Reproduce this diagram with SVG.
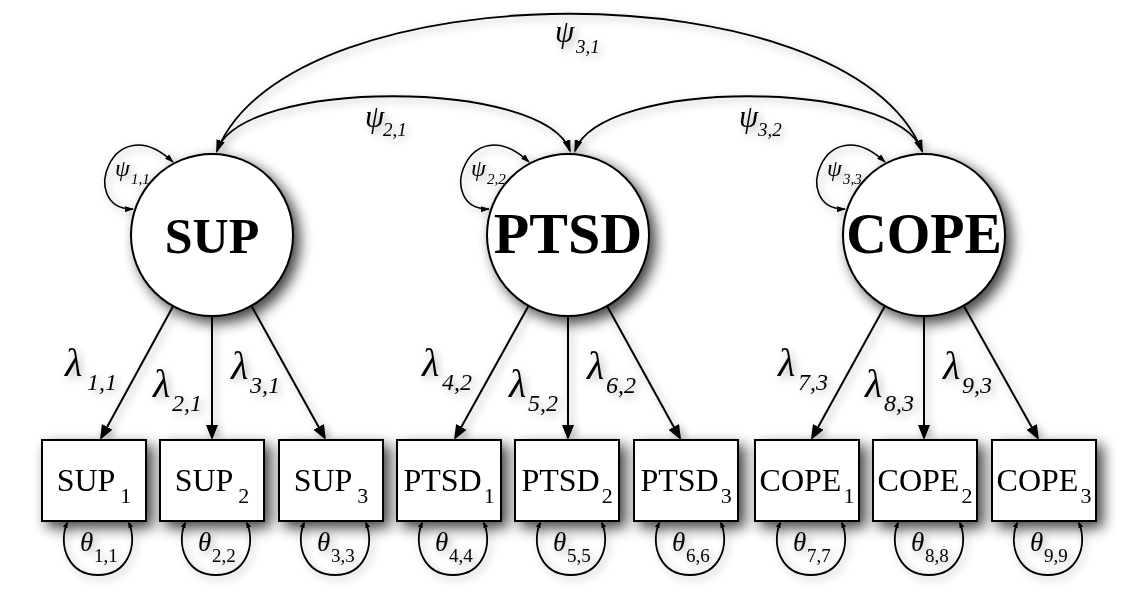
<svg xmlns="http://www.w3.org/2000/svg" width="1148" height="613" viewBox="0 0 1148 613">
<style>
.lat{fill:#fff;stroke:#000;stroke-width:2}
.box{fill:#fff;stroke:#000;stroke-width:2}
.latl{font-family:"Liberation Serif",serif;font-weight:bold;text-anchor:middle;fill:#000}
.obs{font-family:"Liberation Serif",serif;font-size:32px;text-anchor:middle;fill:#000}
.obs .s{font-size:22px}
.gr{font-family:"Liberation Serif",serif;font-style:italic;fill:#000}
.th{font-family:"Liberation Serif",serif;fill:#000}
.ld{fill:none;stroke:#000;stroke-width:2;marker-end:url(#ah)}
.cv{fill:none;stroke:#000;stroke-width:1.8;marker-start:url(#ahc);marker-end:url(#ahc)}
.sl{fill:none;stroke:#000;stroke-width:1.6;marker-start:url(#ahl);marker-end:url(#ahl)}
.tl{fill:none;stroke:#000;stroke-width:1.8;marker-start:url(#aht);marker-end:url(#aht)}
</style>
<defs>
<filter id="sh" x="-30%" y="-30%" width="160%" height="160%">
<feGaussianBlur in="SourceAlpha" stdDeviation="7"/>
<feOffset dx="6" dy="6"/>
<feComponentTransfer><feFuncA type="linear" slope="0.75"/></feComponentTransfer>
<feMerge><feMergeNode/><feMergeNode in="SourceGraphic"/></feMerge>
</filter>
<filter id="shl" x="-10%" y="-10%" width="120%" height="120%">
<feGaussianBlur in="SourceAlpha" stdDeviation="4"/>
<feOffset dx="3" dy="3"/>
<feComponentTransfer><feFuncA type="linear" slope="0.35"/></feComponentTransfer>
<feMerge><feMergeNode/><feMergeNode in="SourceGraphic"/></feMerge>
</filter>
<marker id="ah" markerUnits="userSpaceOnUse" viewBox="0 0 15 12" markerWidth="15" markerHeight="12" refX="12" refY="6" orient="auto"><path d="M0,0 L15,6 L0,12 z" fill="#000"/></marker>
<marker id="ahc" markerUnits="userSpaceOnUse" viewBox="0 0 13 8" markerWidth="13" markerHeight="8" refX="11" refY="4" orient="auto-start-reverse"><path d="M0,0 L13,4 L0,8 z" fill="#000"/></marker>
<marker id="ahl" markerUnits="userSpaceOnUse" viewBox="0 0 9 6" markerWidth="9" markerHeight="6" refX="8" refY="3" orient="auto-start-reverse"><path d="M0,0 L9,3 L0,6 z" fill="#000"/></marker>
<marker id="aht" markerUnits="userSpaceOnUse" viewBox="0 0 7 5" markerWidth="7" markerHeight="5" refX="5" refY="2.5" orient="auto-start-reverse"><path d="M0,0 L7,2.5 L0,5 z" fill="#000"/></marker>
</defs>
<rect width="1148" height="613" fill="#fff"/>

<g id="connectors" filter="url(#shl)">
<!-- covariances -->
<path class="cv" d="M217,151 C290,-32 850,-32 922,151"/>
<path class="cv" d="M217,151 C240,78 545,78 570,151"/>
<path class="cv" d="M575,151 C600,78 897,78 922,151"/>
<!-- variances of latents -->
<path class="sl" d="M133,209 C77,210 112,105 173,162"/>
<path class="sl" d="M489,209 C433,210 468,105 529,162"/>
<path class="sl" d="M845,209 C789,210 824,105 885,162"/>
<!-- loadings -->
<line class="ld" x1="173.2" y1="306.1" x2="101.4" y2="437.4"/>
<line class="ld" x1="212" y1="316" x2="212" y2="437"/>
<line class="ld" x1="251.4" y1="305.8" x2="324.5" y2="437.4"/>
<line class="ld" x1="528.6" y1="305.8" x2="455.5" y2="437.4"/>
<line class="ld" x1="568" y1="316" x2="568" y2="437"/>
<line class="ld" x1="607.1" y1="305.9" x2="679.6" y2="437.4"/>
<line class="ld" x1="884.9" y1="305.9" x2="812.4" y2="437.4"/>
<line class="ld" x1="924" y1="316" x2="924" y2="437"/>
<line class="ld" x1="963.6" y1="305.6" x2="1037.5" y2="437.4"/>
<!-- residual variances -->
<path class="tl" d="M67,523 C58,545 68,575 98,575 C128,575 138,545 129,523"/>
<path class="tl" d="M185,523 C176,545 186,575 216,575 C246,575 256,545 247,523"/>
<path class="tl" d="M304,523 C295,545 305,575 335,575 C365,575 375,545 366,523"/>
<path class="tl" d="M422,523 C413,545 423,575 453,575 C483,575 493,545 484,523"/>
<path class="tl" d="M540,523 C531,545 541,575 571,575 C601,575 611,545 602,523"/>
<path class="tl" d="M659,523 C650,545 660,575 690,575 C720,575 730,545 721,523"/>
<path class="tl" d="M780,523 C771,545 781,575 811,575 C841,575 851,545 842,523"/>
<path class="tl" d="M898,523 C889,545 899,575 929,575 C959,575 969,545 960,523"/>
<path class="tl" d="M1017,523 C1008,545 1018,575 1048,575 C1078,575 1088,545 1079,523"/>
<!-- labels -->
<text class="gr" x="555" y="42" font-size="31">ψ<tspan x="576" y="53" font-size="19">3,1</tspan></text>
<text class="gr" x="365" y="127" font-size="31">ψ<tspan x="383" y="136" font-size="19">2,1</tspan></text>
<text class="gr" x="739" y="127" font-size="31">ψ<tspan x="758" y="136" font-size="19">3,2</tspan></text>
<text class="gr" x="115" y="176" font-size="24">ψ<tspan x="131" y="184" font-size="15">1,1</tspan></text>
<text class="gr" x="471" y="176" font-size="24">ψ<tspan x="487" y="184" font-size="15">2,2</tspan></text>
<text class="gr" x="827" y="176" font-size="24">ψ<tspan x="843" y="184" font-size="15">3,3</tspan></text>
<text class="gr" x="65" y="376" font-size="40">λ<tspan x="87" y="390" font-size="24">1,1</tspan></text>
<text class="gr" x="153" y="397" font-size="40">λ<tspan x="172" y="411" font-size="24">2,1</tspan></text>
<text class="gr" x="231" y="379" font-size="40">λ<tspan x="250" y="393" font-size="24">3,1</tspan></text>
<text class="gr" x="422" y="376" font-size="40">λ<tspan x="442" y="390" font-size="24">4,2</tspan></text>
<text class="gr" x="509" y="397" font-size="40">λ<tspan x="528" y="411" font-size="24">5,2</tspan></text>
<text class="gr" x="587" y="379" font-size="40">λ<tspan x="606" y="393" font-size="24">6,2</tspan></text>
<text class="gr" x="778" y="376" font-size="40">λ<tspan x="798" y="390" font-size="24">7,3</tspan></text>
<text class="gr" x="865" y="397" font-size="40">λ<tspan x="884" y="411" font-size="24">8,3</tspan></text>
<text class="gr" x="943" y="379" font-size="40">λ<tspan x="962" y="393" font-size="24">9,3</tspan></text>
<text class="th" x="80" y="551" font-size="27"><tspan font-style="italic">θ</tspan><tspan x="94" y="562" font-size="19">1,1</tspan></text>
<text class="th" x="198" y="551" font-size="27"><tspan font-style="italic">θ</tspan><tspan x="212" y="562" font-size="19">2,2</tspan></text>
<text class="th" x="317" y="551" font-size="27"><tspan font-style="italic">θ</tspan><tspan x="331" y="562" font-size="19">3,3</tspan></text>
<text class="th" x="435" y="551" font-size="27"><tspan font-style="italic">θ</tspan><tspan x="449" y="562" font-size="19">4,4</tspan></text>
<text class="th" x="553" y="551" font-size="27"><tspan font-style="italic">θ</tspan><tspan x="567" y="562" font-size="19">5,5</tspan></text>
<text class="th" x="672" y="551" font-size="27"><tspan font-style="italic">θ</tspan><tspan x="686" y="562" font-size="19">6,6</tspan></text>
<text class="th" x="793" y="551" font-size="27"><tspan font-style="italic">θ</tspan><tspan x="807" y="562" font-size="19">7,7</tspan></text>
<text class="th" x="911" y="551" font-size="27"><tspan font-style="italic">θ</tspan><tspan x="925" y="562" font-size="19">8,8</tspan></text>
<text class="th" x="1030" y="551" font-size="27"><tspan font-style="italic">θ</tspan><tspan x="1044" y="562" font-size="19">9,9</tspan></text>
</g>

<g id="SUP" filter="url(#sh)"><circle class="lat" cx="212" cy="235" r="81"/><text class="latl" x="212" y="253" font-size="50">SUP</text></g>
<g id="PTSD" filter="url(#sh)"><circle class="lat" cx="568" cy="235" r="81"/><text class="latl" x="568" y="253" font-size="58">PTSD</text></g>
<g id="COPE" filter="url(#sh)"><circle class="lat" cx="924" cy="235" r="81"/><text class="latl" x="924" y="253" font-size="56">COPE</text></g>

<g id="SUP1" filter="url(#sh)"><rect class="box" x="42" y="440" width="104" height="81"/><text class="obs" x="94" y="491">SUP<tspan class="s" dx="5" dy="12">1</tspan></text></g>
<g id="SUP2" filter="url(#sh)"><rect class="box" x="160" y="440" width="104" height="81"/><text class="obs" x="212" y="491">SUP<tspan class="s" dx="5" dy="12">2</tspan></text></g>
<g id="SUP3" filter="url(#sh)"><rect class="box" x="279" y="440" width="104" height="81"/><text class="obs" x="331" y="491">SUP<tspan class="s" dx="5" dy="12">3</tspan></text></g>
<g id="PTSD1" filter="url(#sh)"><rect class="box" x="397" y="440" width="104" height="81"/><text class="obs" x="449" y="491">PTSD<tspan class="s" dx="2" dy="12">1</tspan></text></g>
<g id="PTSD2" filter="url(#sh)"><rect class="box" x="515" y="440" width="104" height="81"/><text class="obs" x="567" y="491">PTSD<tspan class="s" dx="2" dy="12">2</tspan></text></g>
<g id="PTSD3" filter="url(#sh)"><rect class="box" x="634" y="440" width="104" height="81"/><text class="obs" x="686" y="491">PTSD<tspan class="s" dx="2" dy="12">3</tspan></text></g>
<g id="COPE1" filter="url(#sh)"><rect class="box" x="755" y="440" width="104" height="81"/><text class="obs" x="807" y="491">COPE<tspan class="s" dx="2" dy="12">1</tspan></text></g>
<g id="COPE2" filter="url(#sh)"><rect class="box" x="873" y="440" width="104" height="81"/><text class="obs" x="925" y="491">COPE<tspan class="s" dx="2" dy="12">2</tspan></text></g>
<g id="COPE3" filter="url(#sh)"><rect class="box" x="992" y="440" width="104" height="81"/><text class="obs" x="1044" y="491">COPE<tspan class="s" dx="2" dy="12">3</tspan></text></g>
</svg>
